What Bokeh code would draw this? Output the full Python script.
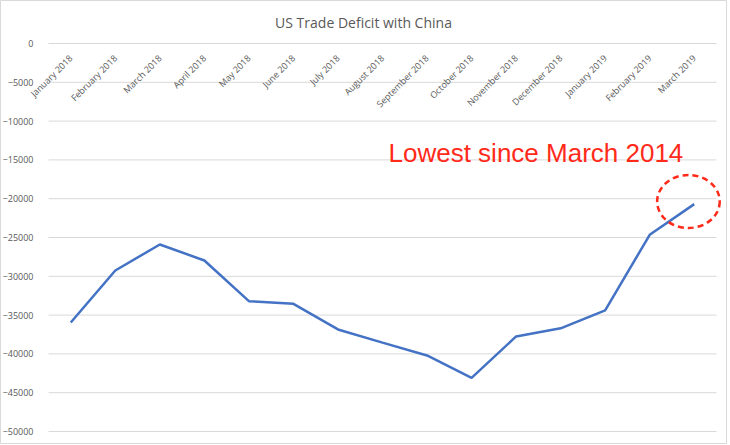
import math
from bokeh.plotting import figure
from bokeh.models import Range1d, FixedTicker, Label, ColumnDataSource
from bokeh.embed import file_html
from bokeh.resources import INLINE

# ---- data ----
months = ["January 2018", "February 2018", "March 2018", "April 2018", "May 2018",
          "June 2018", "July 2018", "August 2018", "September 2018", "October 2018",
          "November 2018", "December 2018", "January 2019", "February 2019", "March 2019"]
deficit = [-35950, -29250, -25900, -27960, -33200, -33550, -36850, -38550,
           -40200, -43100, -37750, -36700, -34400, -24650, -20700]
y_ticks = [0, -5000, -10000, -15000, -20000, -25000, -30000, -35000, -40000, -45000, -50000]
title_text = "US Trade Deficit with China"
note_text = "Lowest since March 2014"

# ---- layout (pixels) ----
W, H = 727, 444
PL, PR, PT, PB = 48, 716, 43, 431          # plot-area edges in canvas pixels
n = len(months)
ux = (PR - PL) / n                          # px per category
ymax, ymin = max(y_ticks), min(y_ticks)
uy = (PB - PT) / (ymax - ymin)              # px per unit value

x0 = -0.5 - PL / ux
x1 = n - 0.5 + (W - PR) / ux
y1 = ymax + PT / uy
y0 = ymin - (H - PB) / uy

x_idx = list(range(n))
src = ColumnDataSource(data=dict(x=x_idx, y=deficit))

p = figure(width=W, height=H, output_backend="svg", toolbar_location=None,
           x_range=Range1d(x0, x1), y_range=Range1d(y0, y1),
           min_border=0)
p.outline_line_color = "#D9D9D9"
p.outline_line_width = 1
p.background_fill_color = "white"
p.border_fill_color = "white"
p.xgrid.visible = False
p.ygrid.visible = False

# horizontal gridlines across the plot area only
p.segment(x0=[-0.5] * len(y_ticks), x1=[n - 0.5] * len(y_ticks), y0=y_ticks, y1=y_ticks,
          line_color="#D9D9D9", line_width=1)

xa = p.xaxis[0]
xa.ticker = FixedTicker(ticks=x_idx)
xa.major_label_overrides = {i: m for i, m in zip(x_idx, months)}
xa.fixed_location = 0
xa.major_label_orientation = math.pi / 4
xa.axis_line_color = None
xa.major_tick_line_color = None
xa.minor_tick_line_color = None
xa.major_label_standoff = 7
xa.major_label_text_font = "Open Sans"
xa.major_label_text_font_size = "9px"
xa.major_label_text_color = "#595959"

ya = p.yaxis[0]
ya.ticker = FixedTicker(ticks=y_ticks)
ya.fixed_location = -0.5
ya.axis_line_color = None
ya.major_tick_line_color = None
ya.minor_tick_line_color = None
ya.major_label_standoff = 9
ya.major_label_text_font = "Open Sans"
ya.major_label_text_font_size = "9px"
ya.major_label_text_color = "#595959"

p.line("x", "y", source=src, line_color="#4472C4", line_width=2.5)

# dashed highlight ellipse around the latest value
p.ellipse(x=[x_idx[-1] - 0.13], y=[deficit[-1] + 340], width=62.6 / ux, height=53 / uy,
          fill_color=None, line_color="#FF2A1A", line_width=2.5, line_dash="6 4")

p.add_layout(Label(x=(363 - PL) / ux - 0.5, y=ymax + (PT - 22) / uy, text=title_text,
                   text_align="center", text_baseline="alphabetic", text_font="Open Sans",
                   text_font_size="14px", text_color="#595959"))
p.add_layout(Label(x=(388 - PL) / ux - 0.5, y=ymax - (152.5 - PT) / uy, text=note_text,
                   text_align="left", text_baseline="alphabetic", text_font="Liberation Sans",
                   text_font_size="26px", text_color="#FF2A1A"))

open("out.html", "w").write(file_html(p, INLINE))
